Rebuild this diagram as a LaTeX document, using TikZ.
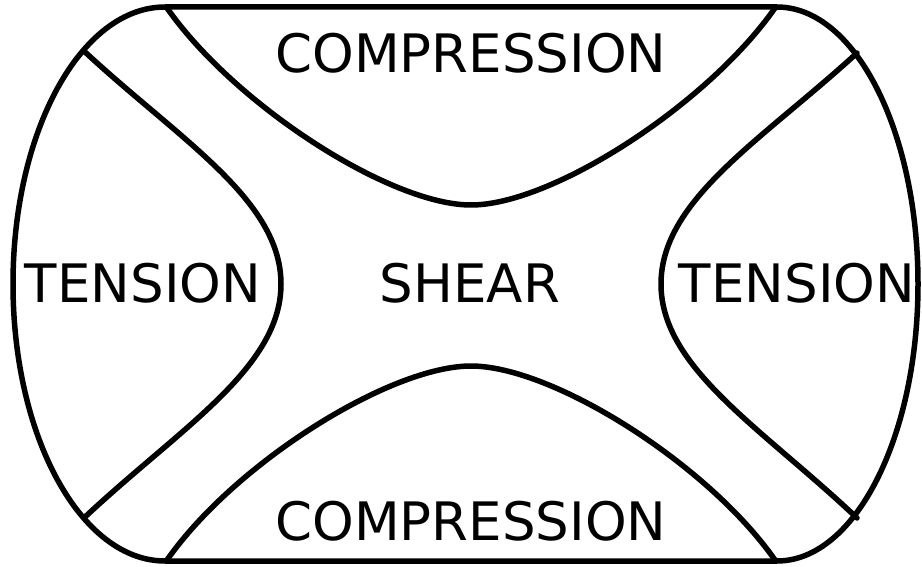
\documentclass[tikz,border=0pt]{standalone}
\usepackage{fontspec}
\setmainfont{DejaVu Sans}
\begin{document}
\begin{tikzpicture}[x=1pt,y=-1pt,
  edge/.style={line width=5.5pt,line join=round,line cap=round},
  lbl/.style={font=\fontsize{53}{60}\selectfont,inner sep=0pt}]
\useasboundingbox (0,0) rectangle (922,567);
% outer boundary
\draw[edge] (165,7) -- (777,7)
  .. controls (855,7) and (918,131) .. (918,284)
  .. controls (918,437) and (855,561) .. (777,561)
  -- (165,561)
  .. controls (81,561) and (13,437) .. (13,284)
  .. controls (13,131) and (81,7) .. (165,7) -- cycle;
% compression curves
\draw[edge] (167,8) .. controls (235,105) and (390,205) .. (471,205)
  .. controls (552,205) and (707,105) .. (775,8);
\draw[edge] (167,560) .. controls (235,463) and (390,366) .. (471,366)
  .. controls (552,366) and (707,463) .. (775,560);
% tension curves
\draw[edge] (85,52) .. controls (180,140) and (281,200) .. (281,284)
  .. controls (281,368) and (180,428) .. (85,517);
\draw[edge] (857,53) .. controls (762,140) and (661,200) .. (661,284)
  .. controls (661,368) and (762,428) .. (857,518);
% labels
\node[lbl] (ctop) at (471,53) {COMPRESSION};
\node[lbl] (cbot) at (471,521) {COMPRESSION};
\node[lbl] (shear) at (470,283) {SHEAR};
\node[lbl] (tl) at (143,283) {TENSION};
\node[lbl] (tr) at (797,283) {TENSION};
\end{tikzpicture}
\end{document}
